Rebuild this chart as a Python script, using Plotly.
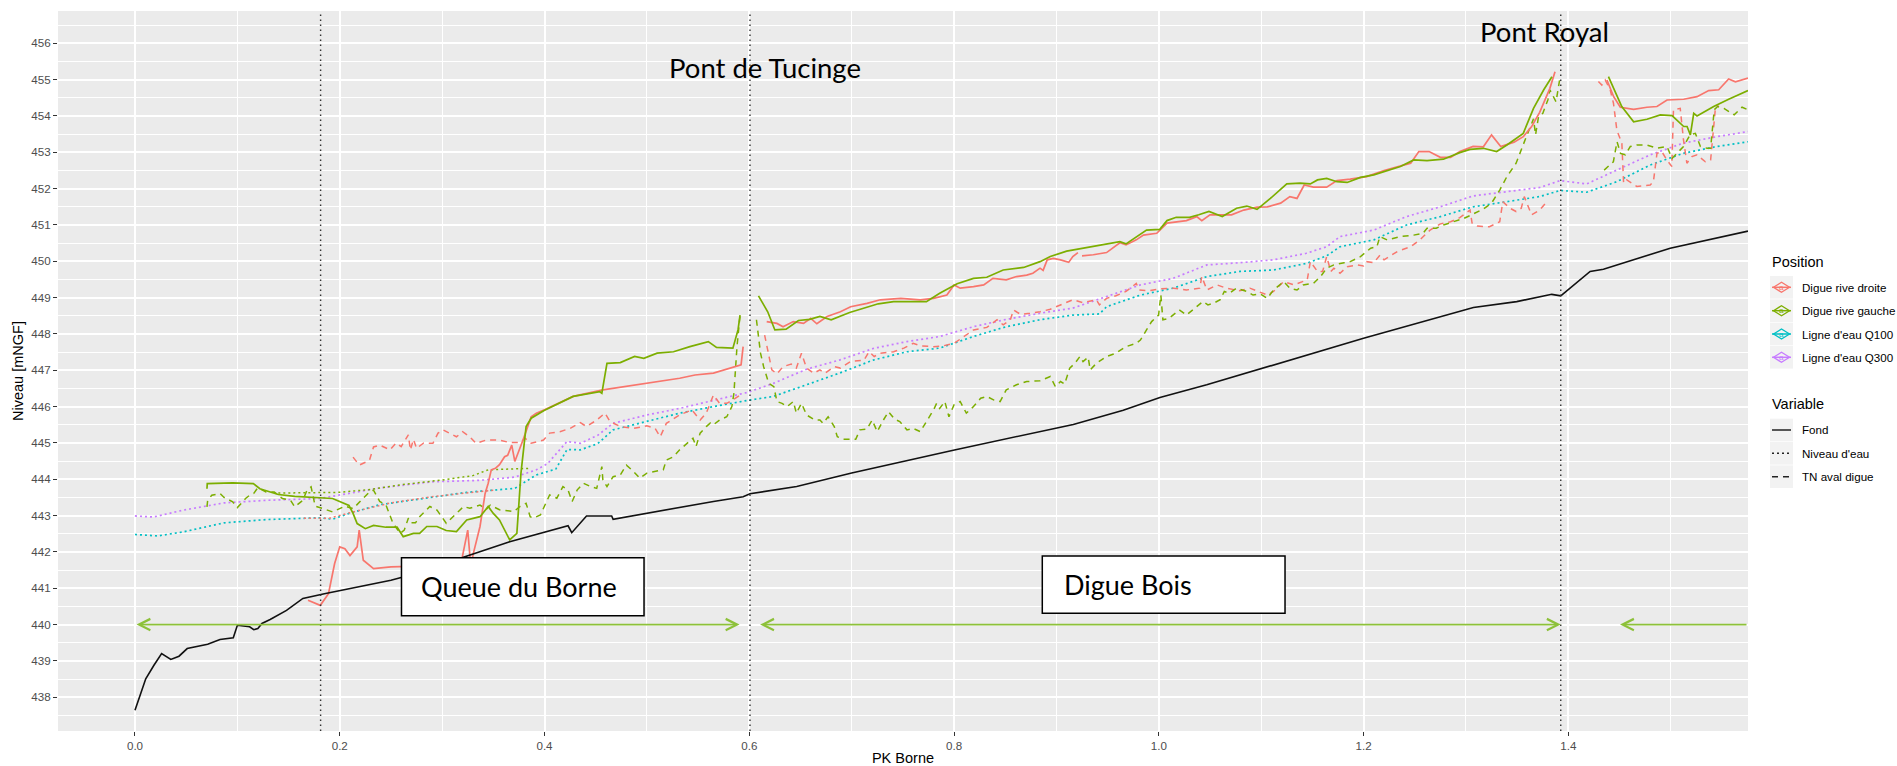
import plotly.graph_objects as go

# ---------------- data (PK in km, levels in m NGF) ----------------
fond = [(0.0, 437.64), (0.0105, 438.51), (0.0185, 438.88), (0.026, 439.2), (0.035, 439.04),
        (0.043, 439.13), (0.051, 439.34), (0.059, 439.39), (0.071, 439.46), (0.083, 439.59),
        (0.096, 439.64), (0.1, 439.98), (0.112, 439.94), (0.116, 439.86), (0.12, 439.89),
        (0.124, 440.03), (0.132, 440.14), (0.148, 440.39), (0.164, 440.72), (0.185, 440.85),
        (0.209, 440.99), (0.25, 441.22), (0.28, 441.45), (0.32, 441.85), (0.366, 442.28),
        (0.423, 442.72), (0.4266, 442.53), (0.441, 442.99), (0.4656, 442.99), (0.467, 442.9),
        (0.565, 443.39), (0.594, 443.52), (0.6007, 443.6), (0.6463, 443.8), (0.7, 444.17),
        (0.7993, 444.8), (0.9165, 445.51), (0.9653, 445.9), (1.0011, 446.25), (1.0468, 446.6),
        (1.2, 447.88), (1.3073, 448.73), (1.3496, 448.89), (1.3838, 449.09), (1.3926, 449.05),
        (1.4213, 449.72), (1.4343, 449.78), (1.4669, 450.08), (1.4995, 450.36), (1.5755, 450.83)]

q100 = [(0.0, 442.48), (0.022, 442.44), (0.047, 442.55), (0.087, 442.8), (0.128, 442.89),
        (0.18, 442.94), (0.193, 442.9), (0.209, 443.06), (0.239, 443.3), (0.29, 443.51),
        (0.324, 443.64), (0.371, 443.75), (0.392, 444.12), (0.411, 444.28), (0.422, 444.82),
        (0.435, 444.81), (0.452, 444.98), (0.467, 445.36), (0.5, 445.59), (0.532, 445.82),
        (0.565, 446.0), (0.598, 446.17), (0.6235, 446.28), (0.656, 446.6), (0.688, 446.92),
        (0.721, 447.28), (0.754, 447.51), (0.786, 447.61), (0.819, 447.93), (0.851, 448.2),
        (0.884, 448.39), (0.916, 448.52), (0.942, 448.55), (0.949, 448.75), (0.982, 449.07),
        (1.014, 449.26), (1.047, 449.58), (1.079, 449.72), (1.112, 449.76), (1.144, 449.94),
        (1.164, 450.15), (1.177, 450.4), (1.21, 450.59), (1.242, 451.0), (1.275, 451.23),
        (1.307, 451.5), (1.34, 451.64), (1.372, 451.78), (1.392, 451.95), (1.418, 451.9),
        (1.4473, 452.19), (1.48, 452.65), (1.512, 452.97), (1.545, 453.16), (1.5755, 453.29)]

q300 = [(0.0, 442.99), (0.018, 442.96), (0.047, 443.15), (0.087, 443.35), (0.128, 443.42),
        (0.18, 443.47), (0.209, 443.61), (0.239, 443.76), (0.29, 443.93), (0.337, 443.97),
        (0.371, 444.06), (0.392, 444.26), (0.403, 444.43), (0.422, 445.04), (0.435, 444.99),
        (0.452, 445.21), (0.467, 445.54), (0.5, 445.77), (0.532, 445.95), (0.565, 446.16),
        (0.598, 446.39), (0.6235, 446.64), (0.656, 447.03), (0.688, 447.28), (0.721, 447.6),
        (0.754, 447.79), (0.786, 447.93), (0.819, 448.2), (0.851, 448.4), (0.884, 448.57),
        (0.916, 448.71), (0.949, 449.03), (0.982, 449.35), (1.014, 449.53), (1.047, 449.9),
        (1.079, 449.96), (1.112, 450.04), (1.144, 450.22), (1.164, 450.4), (1.177, 450.68),
        (1.21, 450.86), (1.242, 451.23), (1.275, 451.5), (1.307, 451.8), (1.34, 451.92),
        (1.372, 452.03), (1.392, 452.22), (1.418, 452.13), (1.4473, 452.51), (1.48, 452.93),
        (1.512, 453.25), (1.545, 453.43), (1.5755, 453.57)]

# Crest of the right-bank dyke (Digue rive droite), one list per continuous stretch
crete_rd = [
    [(0.169, 440.67), (0.181, 440.53), (0.189, 440.85), (0.195, 441.68), (0.2, 442.14),
     (0.205, 442.09), (0.21, 441.9), (0.217, 442.14), (0.219, 442.6), (0.223, 441.77),
     (0.233, 441.54), (0.25, 441.59), (0.29, 441.62), (0.318, 441.62), (0.325, 442.6),
     (0.328, 441.6), (0.3305, 441.96), (0.337, 442.7), (0.342, 443.61), (0.345, 443.89),
     (0.348, 444.26), (0.352, 444.3), (0.356, 444.4), (0.361, 444.62), (0.364, 444.66),
     (0.368, 444.94), (0.371, 444.49), (0.375, 444.76), (0.379, 445.08), (0.387, 445.72),
     (0.392, 445.82), (0.4, 445.91), (0.428, 446.28), (0.457, 446.46), (0.5, 446.64),
     (0.532, 446.78), (0.547, 446.87), (0.565, 446.92), (0.592, 447.15), (0.594, 447.65)],
    [(0.617, 448.34), (0.627, 448.29), (0.633, 448.2), (0.643, 448.34), (0.653, 448.29),
     (0.66, 448.43), (0.666, 448.28), (0.676, 448.48), (0.689, 448.61), (0.699, 448.75),
     (0.715, 448.84), (0.728, 448.94), (0.748, 448.98), (0.767, 448.94), (0.78, 448.98),
     (0.793, 449.07), (0.8, 449.35), (0.806, 449.26), (0.819, 449.3), (0.829, 449.35),
     (0.838, 449.53), (0.851, 449.49), (0.861, 449.58), (0.871, 449.62), (0.877, 449.67),
     (0.884, 449.81), (0.887, 449.75), (0.891, 450.04), (0.897, 450.08), (0.904, 450.04),
     (0.912, 449.97), (0.916, 450.13), (0.921, 450.24)],
    [(0.925, 450.15), (0.936, 450.18), (0.949, 450.24), (0.955, 450.36), (0.962, 450.51),
     (0.968, 450.45), (0.978, 450.59), (0.985, 450.72), (0.998, 450.77), (1.008, 451.05),
     (1.027, 451.12), (1.037, 451.23), (1.042, 451.12), (1.05, 451.28), (1.071, 451.28),
     (1.083, 451.41), (1.096, 451.49), (1.106, 451.5), (1.119, 451.6), (1.128, 451.78),
     (1.135, 451.73), (1.142, 452.1), (1.151, 452.04), (1.164, 452.04), (1.174, 452.22),
     (1.187, 452.26), (1.203, 452.33), (1.22, 452.5), (1.236, 452.61), (1.246, 452.7),
     (1.254, 453.02), (1.264, 453.02), (1.275, 452.86), (1.285, 452.86), (1.294, 453.02),
     (1.307, 453.16), (1.317, 453.15), (1.325, 453.48), (1.334, 453.16), (1.347, 453.28),
     (1.356, 453.43), (1.364, 453.7), (1.372, 454.1), (1.382, 454.76), (1.387, 455.22)],
    [(1.4377, 454.99), (1.4443, 454.53), (1.4508, 454.24), (1.4638, 454.18), (1.4768, 454.24),
     (1.4866, 454.26), (1.4964, 454.44), (1.5127, 454.46), (1.5257, 454.53), (1.5371, 454.7),
     (1.5469, 454.72), (1.5566, 455.02), (1.5632, 454.94), (1.5755, 455.04)],
]

# Crest of the left-bank dyke (Digue rive gauche)
crete_rg = [
    [(0.0703, 443.74), (0.0706, 443.88), (0.0954, 443.9), (0.1156, 443.88), (0.122, 443.74),
     (0.14, 443.58), (0.156, 443.53), (0.176, 443.5), (0.193, 443.47), (0.209, 443.28),
     (0.213, 443.06), (0.217, 442.78), (0.225, 442.64), (0.233, 442.73), (0.245, 442.68),
     (0.256, 442.68), (0.262, 442.42), (0.272, 442.51), (0.278, 442.51), (0.285, 442.7),
     (0.295, 442.7), (0.304, 442.59), (0.314, 442.56), (0.324, 442.88), (0.337, 442.97),
     (0.345, 443.25), (0.35, 443.06), (0.356, 442.88), (0.366, 442.33), (0.373, 442.51),
     (0.377, 444.17), (0.382, 445.45), (0.387, 445.68), (0.4, 445.9), (0.428, 446.28),
     (0.454, 446.41), (0.456, 446.37), (0.461, 447.19), (0.474, 447.21), (0.488, 447.38),
     (0.497, 447.33), (0.51, 447.47), (0.526, 447.51), (0.542, 447.65), (0.56, 447.79),
     (0.568, 447.63), (0.584, 447.61), (0.589, 448.11), (0.591, 448.52)],
    [(0.609, 449.05), (0.618, 448.61), (0.625, 448.11), (0.636, 448.13), (0.648, 448.37),
     (0.659, 448.4), (0.669, 448.48), (0.68, 448.39), (0.698, 448.59), (0.726, 448.83),
     (0.741, 448.89), (0.773, 448.89), (0.786, 449.12), (0.803, 449.38), (0.819, 449.53),
     (0.832, 449.56), (0.848, 449.76), (0.868, 449.83), (0.884, 449.99), (0.894, 450.13),
     (0.91, 450.28), (0.942, 450.45), (0.962, 450.54), (0.968, 450.48), (0.988, 450.86),
     (1.001, 450.88), (1.008, 451.12), (1.017, 451.21), (1.03, 451.21), (1.039, 451.28),
     (1.049, 451.37), (1.062, 451.23), (1.076, 451.46), (1.086, 451.52), (1.096, 451.43),
     (1.109, 451.73), (1.125, 452.13), (1.138, 452.15), (1.148, 452.13), (1.155, 452.24),
     (1.164, 452.28), (1.174, 452.19), (1.184, 452.17), (1.197, 452.31), (1.21, 452.38),
     (1.236, 452.61), (1.249, 452.79), (1.262, 452.77), (1.278, 452.81), (1.294, 452.99),
     (1.304, 453.08), (1.317, 453.11), (1.323, 453.06), (1.33, 453.02), (1.34, 453.2),
     (1.356, 453.52), (1.366, 454.21), (1.376, 454.72), (1.384, 455.08)],
    [(1.4392, 455.08), (1.4522, 454.26), (1.4638, 453.84), (1.4768, 453.91), (1.4899, 454.03),
     (1.5013, 454.01), (1.5127, 453.71), (1.516, 453.71), (1.5192, 453.48), (1.5225, 454.07),
     (1.5257, 454.0), (1.542, 454.26), (1.5566, 454.46), (1.5755, 454.7)],
]

# Natural ground behind the right-bank dyke (TN aval digue)
tn_rd = [
    [(0.213, 444.61), (0.219, 444.39), (0.229, 444.52), (0.233, 444.89), (0.239, 444.94),
     (0.249, 444.81), (0.255, 445.0), (0.26, 444.9), (0.267, 445.22), (0.269, 444.81),
     (0.272, 445.1), (0.275, 444.85), (0.282, 445.0), (0.291, 444.99), (0.296, 445.27),
     (0.301, 445.36), (0.307, 445.27), (0.314, 445.17), (0.32, 445.31), (0.327, 445.17),
     (0.333, 444.99), (0.343, 445.08), (0.356, 445.08), (0.366, 445.01), (0.376, 445.01),
     (0.381, 445.13), (0.387, 444.99), (0.399, 445.08), (0.405, 445.27), (0.415, 445.31),
     (0.425, 445.4), (0.435, 445.56), (0.441, 445.45), (0.451, 445.63), (0.459, 445.82),
     (0.464, 445.59), (0.474, 445.45), (0.487, 445.4), (0.5, 445.47), (0.508, 445.4),
     (0.513, 445.17), (0.519, 445.54), (0.532, 445.77), (0.544, 445.91), (0.552, 445.63),
     (0.558, 445.82), (0.565, 446.32), (0.571, 446.09), (0.578, 446.09), (0.584, 446.18),
     (0.591, 446.32)],
    [(0.615, 447.97), (0.618, 447.56), (0.622, 447.01), (0.627, 446.9), (0.633, 447.1),
     (0.641, 447.17), (0.646, 447.06), (0.651, 447.47), (0.656, 447.06), (0.663, 446.92),
     (0.669, 447.01), (0.674, 446.92), (0.683, 447.1), (0.689, 447.06), (0.699, 447.24),
     (0.712, 447.28), (0.717, 447.51), (0.722, 447.38), (0.728, 447.47), (0.741, 447.51),
     (0.751, 447.61), (0.76, 447.74), (0.768, 447.67), (0.78, 447.65), (0.789, 447.67),
     (0.8, 447.74), (0.812, 447.97), (0.819, 448.11), (0.832, 448.18), (0.842, 448.39),
     (0.848, 448.25), (0.855, 448.39), (0.858, 448.66), (0.865, 448.54), (0.874, 448.57),
     (0.884, 448.61), (0.894, 448.68), (0.904, 448.8), (0.916, 448.94), (0.926, 448.86),
     (0.939, 448.94), (0.942, 448.8), (0.949, 448.98), (0.958, 449.05), (0.968, 449.17),
     (0.978, 449.39), (0.981, 449.21), (0.991, 449.19), (1.001, 449.24), (1.014, 449.26),
     (1.027, 449.21), (1.04, 449.26), (1.042, 449.58), (1.047, 449.21), (1.057, 449.35),
     (1.066, 449.26), (1.079, 449.19), (1.089, 449.26), (1.099, 449.14), (1.106, 449.07),
     (1.112, 449.17), (1.122, 449.44), (1.132, 449.35), (1.145, 449.49), (1.148, 449.99),
     (1.155, 449.72), (1.16, 449.72), (1.164, 450.13), (1.168, 449.72), (1.171, 449.81),
     (1.177, 449.67), (1.184, 449.85), (1.194, 449.9), (1.2, 449.87), (1.203, 449.99),
     (1.21, 449.96), (1.216, 450.17), (1.22, 450.04), (1.233, 450.27), (1.246, 450.4),
     (1.255, 450.59), (1.265, 450.86), (1.275, 451.03), (1.285, 451.09), (1.294, 451.2),
     (1.304, 451.41), (1.306, 451.05), (1.311, 450.97), (1.323, 450.95), (1.333, 451.09),
     (1.336, 451.64), (1.343, 451.46), (1.349, 451.37), (1.354, 451.46), (1.357, 451.78),
     (1.364, 451.28), (1.372, 451.41), (1.379, 451.64)],
    [(1.4294, 454.95), (1.4327, 454.85), (1.436, 454.99), (1.4409, 454.72), (1.4441, 454.35),
     (1.4474, 453.61), (1.4523, 453.25), (1.454, 452.15), (1.4571, 452.24), (1.4669, 452.06),
     (1.48, 452.1), (1.4831, 452.19), (1.4866, 452.97), (1.4913, 453.02), (1.4962, 452.79),
     (1.5011, 452.61), (1.5027, 454.17), (1.5093, 454.21), (1.5125, 453.34), (1.5158, 452.7),
     (1.5207, 452.88), (1.5257, 452.93), (1.5338, 452.74), (1.539, 452.79), (1.5438, 454.26),
     (1.5469, 454.28)],
]

# Natural ground behind the left-bank dyke
tn_rg = [
    [(0.0703, 443.24), (0.071, 443.42), (0.075, 443.56), (0.083, 443.61), (0.087, 443.5),
     (0.0954, 443.38), (0.1, 443.22), (0.108, 443.47), (0.112, 443.56), (0.116, 443.61),
     (0.12, 443.77), (0.128, 443.65), (0.136, 443.65), (0.144, 443.47), (0.152, 443.42),
     (0.156, 443.24), (0.164, 443.42), (0.168, 443.7), (0.172, 443.79), (0.176, 443.26),
     (0.184, 443.19), (0.193, 443.1), (0.205, 443.26), (0.213, 443.19), (0.221, 443.42),
     (0.229, 443.65), (0.233, 443.7), (0.237, 443.5), (0.239, 443.39), (0.245, 443.3),
     (0.252, 442.79), (0.259, 442.51), (0.263, 442.6), (0.267, 442.93), (0.27, 442.8),
     (0.274, 442.8), (0.278, 442.97), (0.288, 443.25), (0.295, 443.15), (0.304, 442.79),
     (0.311, 442.97), (0.321, 443.25), (0.327, 443.2), (0.337, 443.29), (0.343, 443.17),
     (0.347, 443.29), (0.356, 443.16), (0.37, 443.11), (0.376, 443.25), (0.382, 443.34),
     (0.386, 442.97), (0.389, 442.93), (0.396, 443.02), (0.401, 443.34), (0.405, 443.57),
     (0.412, 443.48), (0.418, 443.8), (0.423, 443.7), (0.427, 443.39), (0.432, 443.71),
     (0.438, 443.89), (0.445, 443.8), (0.451, 443.75), (0.456, 444.35), (0.457, 443.98),
     (0.461, 443.8), (0.467, 444.07), (0.474, 444.12), (0.48, 444.39), (0.487, 444.21),
     (0.493, 444.03), (0.5, 444.17), (0.509, 444.21), (0.516, 444.26), (0.519, 444.53),
     (0.526, 444.62), (0.532, 444.81), (0.539, 444.99), (0.545, 445.13), (0.548, 444.9),
     (0.552, 445.27), (0.558, 445.45), (0.562, 445.55), (0.565, 445.5), (0.571, 445.63),
     (0.578, 445.72), (0.583, 446.0), (0.585, 446.37), (0.588, 447.65), (0.591, 448.52)],
    [(0.607, 448.39), (0.611, 447.47), (0.614, 447.1), (0.619, 446.64), (0.624, 446.55),
     (0.627, 446.14), (0.632, 446.09), (0.637, 446.0), (0.643, 446.14), (0.646, 445.82),
     (0.651, 446.09), (0.656, 445.77), (0.664, 445.63), (0.669, 445.63), (0.672, 445.54),
     (0.677, 445.72), (0.683, 445.45), (0.686, 445.17), (0.692, 445.1), (0.704, 445.1),
     (0.708, 445.36), (0.715, 445.38), (0.72, 445.63), (0.725, 445.31), (0.731, 445.63),
     (0.736, 445.86), (0.742, 445.65), (0.747, 445.59), (0.754, 445.36), (0.76, 445.4),
     (0.767, 445.31), (0.773, 445.59), (0.78, 445.91), (0.783, 446.09), (0.786, 445.95),
     (0.791, 446.14), (0.795, 445.72), (0.8, 446.05), (0.806, 446.14), (0.812, 445.82),
     (0.819, 446.0), (0.826, 446.23), (0.832, 446.28), (0.839, 446.18), (0.845, 446.14),
     (0.851, 446.46), (0.861, 446.6), (0.871, 446.69), (0.884, 446.71), (0.894, 446.83),
     (0.899, 446.55), (0.904, 446.69), (0.908, 446.62), (0.913, 447.06), (0.918, 447.19),
     (0.923, 447.38), (0.926, 447.24), (0.931, 447.36), (0.933, 447.01), (0.939, 447.19),
     (0.949, 447.38), (0.958, 447.47), (0.968, 447.65), (0.978, 447.74), (0.982, 447.83),
     (0.988, 448.11), (0.993, 448.34), (0.9998, 448.52), (1.002, 449.07), (1.004, 448.39),
     (1.01, 448.43), (1.02, 448.66), (1.027, 448.52), (1.043, 448.89), (1.048, 448.8),
     (1.053, 448.84), (1.06, 448.94), (1.064, 449.17), (1.069, 449.12), (1.076, 449.26),
     (1.086, 449.17), (1.092, 449.07), (1.099, 449.1), (1.106, 448.98), (1.112, 449.21),
     (1.122, 449.44), (1.128, 449.26), (1.135, 449.21), (1.141, 449.35), (1.151, 449.39),
     (1.158, 449.58), (1.164, 449.81), (1.171, 449.9), (1.181, 449.96), (1.187, 449.99),
     (1.197, 450.13), (1.207, 450.36), (1.213, 450.4), (1.216, 450.68), (1.223, 450.59),
     (1.236, 450.68), (1.249, 450.72), (1.258, 450.77), (1.262, 450.91), (1.271, 450.91),
     (1.278, 451.0), (1.288, 451.09), (1.298, 451.18), (1.307, 451.3), (1.317, 451.44),
     (1.325, 451.6), (1.333, 451.96), (1.34, 452.33), (1.349, 452.7), (1.359, 453.43),
     (1.366, 453.92), (1.368, 453.48), (1.371, 454.0), (1.375, 454.07), (1.38, 454.44),
     (1.382, 454.72), (1.388, 454.39), (1.392, 455.08)],
    [(1.435, 452.51), (1.444, 452.74), (1.4476, 453.29), (1.451, 452.97), (1.4557, 452.93),
     (1.4606, 453.16), (1.4669, 453.2), (1.4768, 453.2), (1.4866, 453.11), (1.4964, 453.16),
     (1.5013, 452.83), (1.506, 452.97), (1.5125, 453.16), (1.519, 453.48), (1.5241, 453.52),
     (1.529, 453.16), (1.5355, 453.11), (1.539, 453.11), (1.5425, 454.17), (1.5458, 454.26),
     (1.552, 454.21), (1.562, 454.03), (1.5697, 454.24), (1.5755, 454.17)],
]

# Water level along each dyke (short stretch upstream)
eau_rd = [(0.165, 442.93), (0.19, 442.93), (0.21, 443.08), (0.25, 443.35), (0.29, 443.52),
          (0.33, 443.64), (0.35, 443.7)]
eau_rg = [(0.14, 443.62), (0.17, 443.64), (0.2, 443.64), (0.23, 443.72), (0.26, 443.85),
          (0.3, 443.98), (0.33, 444.1), (0.345, 444.26), (0.376, 444.28), (0.385, 444.3)]

# Structures (PK of bridges / section limits) and dyke stretches
pk_limites = [0.1813, 0.6007, 1.3926]
troncons = [(0.0, 0.5905, "both"), (0.6091, 1.3926, "both"), (1.4505, 1.5755, "start")]
z_fleches = 440.0

x_ticks = [0.0, 0.2, 0.4, 0.6, 0.8, 1.0, 1.2, 1.4]
x_range = [-0.0752, 1.5755]
y_range = [437.071, 456.889]

# ---------------- styles ----------------
COLORS = {"Digue rive droite": "#F8766D", "Digue rive gauche": "#7CAE00",
          "Ligne d'eau Q100": "#00BFC4", "Ligne d'eau Q300": "#C77CFF"}
DASHES = {"Fond": "solid", "Niveau d'eau": "2px,3px", "TN aval digue": "6px,5px"}
ARROW_GREEN = "#8DC13A"
FONT = "Liberation Sans, Arial, sans-serif"

W, H = 1897, 766
ML, MR, MT, MB = 58, 149, 11, 35


def xy(points):
    xs, ys = [], []
    for p in points:
        xs.append(p[0])
        ys.append(p[1])
    return xs, ys


def join(segments):
    xs, ys = [], []
    for i, seg in enumerate(segments):
        if i:
            xs.append(None)
            ys.append(None)
        sx, sy = xy(seg)
        xs += sx
        ys += sy
    return xs, ys


fig = go.Figure()


def add_line(xs, ys, color, dash, width):
    fig.add_trace(go.Scatter(x=xs, y=ys, mode="lines", showlegend=False, hoverinfo="skip",
                             line=dict(color=color, dash=dash, width=width)))


add_line(*xy(q100), COLORS["Ligne d'eau Q100"], DASHES["Niveau d'eau"], 1.7)
add_line(*xy(q300), COLORS["Ligne d'eau Q300"], DASHES["Niveau d'eau"], 1.7)
add_line(*xy(eau_rd), COLORS["Digue rive droite"], DASHES["Niveau d'eau"], 1.5)
add_line(*xy(eau_rg), COLORS["Digue rive gauche"], DASHES["Niveau d'eau"], 1.5)
add_line(*join(tn_rd), COLORS["Digue rive droite"], DASHES["TN aval digue"], 1.5)
add_line(*join(tn_rg), COLORS["Digue rive gauche"], DASHES["TN aval digue"], 1.5)
add_line(*join(crete_rd), COLORS["Digue rive droite"], "solid", 1.7)
add_line(*join(crete_rg), COLORS["Digue rive gauche"], "solid", 1.7)
add_line(*xy(fond), "#111111", "solid", 1.6)

shapes = []
annotations = []

# bridge / section limits
for xv in pk_limites:
    shapes.append(dict(type="line", xref="x", yref="paper", x0=xv, x1=xv, y0=0, y1=1,
                       line=dict(color="#333333", width=1.4, dash="1.5px,3.5px"), layer="above"))

# dyke stretches
for x_a, x_b, heads in troncons:
    if heads == "both":
        annotations.append(dict(x=x_b, y=z_fleches, ax=x_a, ay=z_fleches, xref="x", yref="y",
                                axref="x", ayref="y", text="", showarrow=True,
                                arrowhead=5, startarrowhead=5, arrowside="end+start",
                                arrowsize=1.4, startarrowsize=1.4, arrowwidth=1.6,
                                arrowcolor=ARROW_GREEN, standoff=0, startstandoff=0))
    else:
        annotations.append(dict(x=x_a, y=z_fleches, ax=x_b, ay=z_fleches, xref="x", yref="y",
                                axref="x", ayref="y", text="", showarrow=True,
                                arrowhead=5, arrowside="end", arrowsize=1.4, arrowwidth=1.6,
                                arrowcolor=ARROW_GREEN, standoff=0))

# labelled boxes
boxes = [("Queue du Borne", 0.2603, 0.4972, 440.24, 441.84, 0.2777, 441.04),
         ("Digue Bois", 0.8862, 1.1233, 440.31, 441.89, 0.9052, 441.10)]
for txt, bx0, bx1, by0, by1, tx, ty in boxes:
    shapes.append(dict(type="rect", xref="x", yref="y", x0=bx0, x1=bx1, y0=by0, y1=by1,
                       fillcolor="white", line=dict(color="black", width=1.5), layer="above"))
    annotations.append(dict(x=tx, y=ty, xref="x", yref="y", text=txt, showarrow=False,
                            xanchor="left", yanchor="middle",
                            font=dict(family="Lato", size=27, color="black")))

for txt, tx, ty in [("Pont de Tucinge", 0.6153, 455.33), ("Pont Royal", 1.3763, 456.32)]:
    annotations.append(dict(x=tx, y=ty, xref="x", yref="y", text=txt, showarrow=False,
                            xanchor="center", yanchor="middle",
                            font=dict(family="Lato", size=27.5, color="black")))


# ---------------- legend (two groups, ggplot style) ----------------
def px(xp):
    return (xp - ML) / (W - ML - MR)


def py(yp):
    return (H - MB - yp) / (H - MT - MB)


def legend_title(text, yc):
    annotations.append(dict(x=px(1770), y=py(yc), xref="paper", yref="paper", text=text,
                            showarrow=False, xanchor="left", yanchor="middle",
                            font=dict(family=FONT, size=14.5, color="black")))


def legend_key(yc):
    shapes.append(dict(type="rect", xref="paper", yref="paper", x0=px(1770), x1=px(1793),
                       y0=py(yc + 11.3), y1=py(yc - 11.3), fillcolor="#F2F2F2",
                       line=dict(width=0), layer="above"))


def legend_label(text, yc):
    annotations.append(dict(x=px(1800), y=py(yc), xref="paper", yref="paper", text=text,
                            showarrow=False, xanchor="left", yanchor="middle",
                            font=dict(family=FONT, size=11.6, color="black")))


legend_title("Position", 261.7)
pos_rows = [("Digue rive droite", 287.3), ("Digue rive gauche", 310.7),
            ("Ligne d'eau Q100", 334.0), ("Ligne d'eau Q300", 357.3)]
for name, yc in pos_rows:
    col = COLORS[name]
    legend_key(yc)
    shapes.append(dict(type="line", xref="paper", yref="paper", x0=px(1772), x1=px(1791),
                       y0=py(yc), y1=py(yc), line=dict(color=col, width=1.5), layer="above"))
    cx = 1781.5
    path = "M{},{} L{},{} L{},{} L{},{} Z".format(px(cx - 8), py(yc), px(cx), py(yc - 5),
                                                  px(cx + 8), py(yc), px(cx), py(yc + 5))
    shapes.append(dict(type="path", xref="paper", yref="paper", path=path,
                       line=dict(color=col, width=1.3), fillcolor="rgba(0,0,0,0)", layer="above"))
    annotations.append(dict(x=px(cx), y=py(yc), xref="paper", yref="paper", text="a",
                            showarrow=False, xanchor="center", yanchor="middle",
                            font=dict(family=FONT, size=8, color=col)))
    legend_label(name, yc)

legend_title("Variable", 404.0)
var_rows = [("Fond", 430.0), ("Niveau d'eau", 453.3), ("TN aval digue", 476.7)]
for name, yc in var_rows:
    legend_key(yc)
    shapes.append(dict(type="line", xref="paper", yref="paper", x0=px(1772), x1=px(1791),
                       y0=py(yc), y1=py(yc),
                       line=dict(color="#222222", width=1.5, dash=DASHES[name]), layer="above"))
    legend_label(name, yc)

fig.update_layout(
    width=W, height=H,
    margin=dict(l=ML, r=MR, t=MT, b=MB, pad=0, autoexpand=False),
    paper_bgcolor="white", plot_bgcolor="#EBEBEB",
    showlegend=False,
    shapes=shapes, annotations=annotations,
    font=dict(family=FONT, color="#4D4D4D"),
)
fig.update_xaxes(
    range=x_range, tickmode="array", tickvals=x_ticks, automargin=False,
    ticktext=["{:.1f}".format(v) for v in x_ticks],
    showgrid=True, gridcolor="white", gridwidth=1.6, zeroline=False, showline=False,
    ticks="outside", ticklen=4, tickwidth=1, tickcolor="#333333",
    tickfont=dict(family=FONT, size=11.6, color="#4D4D4D"),
    minor=dict(dtick=0.1, tick0=0.0, showgrid=True, gridcolor="white", gridwidth=0.7, ticklen=0),
    title=dict(text="PK Borne", font=dict(family=FONT, size=14.5, color="black"), standoff=3),
)
fig.update_yaxes(
    range=y_range, dtick=1, tick0=438, automargin=False,
    showgrid=True, gridcolor="white", gridwidth=1.6, zeroline=False, showline=False,
    ticks="outside", ticklen=4, tickwidth=1, tickcolor="#333333",
    tickfont=dict(family=FONT, size=11.6, color="#4D4D4D"),
    minor=dict(dtick=0.5, tick0=438, showgrid=True, gridcolor="white", gridwidth=0.7, ticklen=0),
    title=dict(text="Niveau [mNGF]", font=dict(family=FONT, size=14.5, color="black"), standoff=4),
)

fig.write_html("out.html")
